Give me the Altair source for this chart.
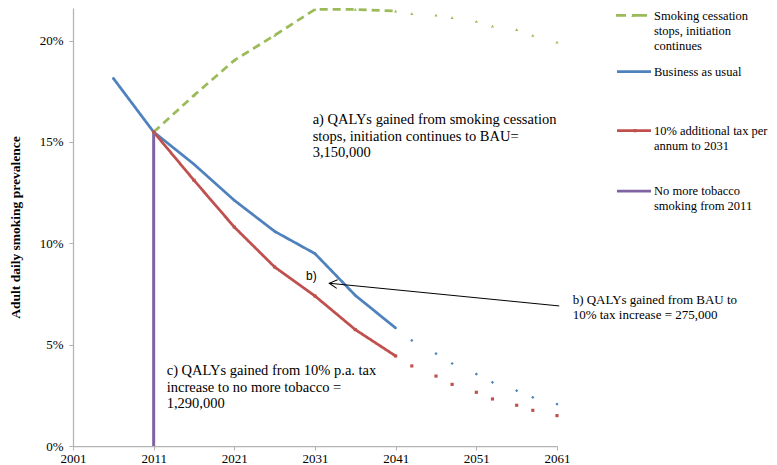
import altair as alt
import pandas as pd

FONT = "Liberation Serif"

# ---- data ----
series_names = [
    "Smoking cessation stops, initiation continues",
    "Business as usual",
    "10% additional tax per annum to 2031",
    "No more tobacco smoking from 2011",
]
colors = ["#9BBB59", "#4F81BD", "#C0504D", "#8064A2"]

bau_years = [2006, 2011, 2016, 2021, 2026, 2031, 2036, 2041]
bau = [18.14, 15.49, 13.9, 12.12, 10.59, 9.49, 7.43, 5.82]
tax_years = [2011, 2016, 2021, 2026, 2031, 2036, 2041]
tax = [15.49, 13.11, 10.8, 8.83, 7.40, 5.74, 4.44]
cess_years = [2011, 2016, 2021, 2026, 2031, 2036, 2041]
cess = [15.49, 17.3, 19.03, 20.26, 21.54, 21.54, 21.46]

proj_years = [2043, 2046, 2048, 2051, 2053, 2056, 2058, 2061]
bau_proj = [5.21, 4.56, 4.07, 3.55, 3.14, 2.73, 2.40, 2.07]
tax_proj = [3.95, 3.45, 3.04, 2.65, 2.32, 2.01, 1.76, 1.50]
cess_proj = [21.33, 21.26, 21.13, 20.95, 20.72, 20.54, 20.26, 19.93]

no_tob_year = [2011]
no_tob_top = [15.49]

x_ticks = [2001, 2011, 2021, 2031, 2041, 2051, 2061]
y_ticks = [0, 5, 10, 15, 20]

legend_lines = [
    ["Smoking cessation", "stops, initiation", "continues"],
    ["Business as usual"],
    ["10% additional tax per", "annum to 2031"],
    ["No more tobacco", "smoking from 2011"],
]

ann_a = "a) QALYs gained from smoking cessation\nstops, initiation continues to BAU=\n3,150,000"
ann_b = "b) QALYs gained from  BAU to\n10% tax increase =  275,000"
ann_c = "c) QALYs gained from 10% p.a. tax\nincrease to no more tobacco =\n1,290,000"
ann_pos_a = (2030.71, 15.87)
ann_pos_b = (2062.94, 7.03)
ann_pos_c = (2012.62, 3.50)
b_label_pos = (2029.88, 8.19)
arrow_from = (2061.28, 6.91)
arrow_to = (2032.77, 8.03)

# ---- tables ----
line_df = pd.concat([
    pd.DataFrame({"series": series_names[0], "year": cess_years, "value": cess}),
    pd.DataFrame({"series": series_names[1], "year": bau_years, "value": bau}),
    pd.DataFrame({"series": series_names[2], "year": tax_years, "value": tax}),
])
proj_df = pd.concat([
    pd.DataFrame({"series": series_names[0], "year": proj_years, "value": cess_proj}),
    pd.DataFrame({"series": series_names[1], "year": proj_years, "value": bau_proj}),
    pd.DataFrame({"series": series_names[2], "year": proj_years, "value": tax_proj}),
])
marker_df = pd.concat([line_df, proj_df])

x_scale = alt.Scale(domain=[2001, 2061], nice=False, zero=False)
y_scale = alt.Scale(domain=[0, 21.61], nice=False, zero=True)
color_scale = alt.Scale(domain=series_names, range=colors)

x_axis = alt.Axis(values=x_ticks, format="d", title=None, grid=False,
                  domainColor="#B3B3B3", domainWidth=1.25, tickColor="#B3B3B3",
                  tickSize=4, labelPadding=2, labelFont=FONT, labelFontSize=13,
                  labelColor="black", labelFlush=False)
y_axis = alt.Axis(values=y_ticks, labelExpr="datum.value + '%'",
                  title="Adult daily smoking prevalence", grid=False,
                  domainColor="#B3B3B3", domainWidth=1.25, tickColor="#B3B3B3",
                  tickSize=4, labelPadding=6, labelFont=FONT, labelFontSize=13,
                  labelColor="black", titleFont=FONT, titleFontSize=13.5,
                  titleFontWeight="bold", titleColor="black", titleAngle=270,
                  titleX=-58, titleY=219, titleBaseline="middle", titleAlign="center")

X = alt.X("year:Q", scale=x_scale, axis=x_axis)
Y = alt.Y("value:Q", scale=y_scale, axis=y_axis)

lines = alt.Chart(line_df).mark_line(strokeWidth=2.75).encode(
    x=X, y=Y,
    color=alt.Color("series:N", scale=color_scale, legend=None),
    strokeDash=alt.StrokeDash("series:N", scale=alt.Scale(
        domain=series_names[:3], range=[[8, 5], [1, 0], [1, 0]]), legend=None),
    detail="series:N",
)

markers = alt.Chart(marker_df).mark_point(filled=True, size=10, opacity=1).encode(
    x=X, y=Y,
    color=alt.Color("series:N", scale=color_scale, legend=None),
    shape=alt.Shape("series:N", scale=alt.Scale(
        domain=series_names[:3], range=["triangle-up", "diamond", "square"]), legend=None),
)

purple = alt.Chart(pd.DataFrame({"year": no_tob_year, "value": [0], "hi": no_tob_top})).mark_rule(
    strokeWidth=3, color=colors[3]).encode(x=X, y=Y, y2="hi:Q")

ann_df = pd.DataFrame({
    "year": [ann_pos_a[0], ann_pos_c[0]],
    "value": [ann_pos_a[1], ann_pos_c[1]],
    "text": [ann_a, ann_c],
})
ann_big = alt.Chart(ann_df).mark_text(align="left", baseline="alphabetic", lineBreak="\n",
                                      font=FONT, fontSize=14.5, lineHeight=16.5,
                                      color="black").encode(x=X, y=Y, text="text:N")
ann_b_txt = alt.Chart(pd.DataFrame({"year": [ann_pos_b[0]], "value": [ann_pos_b[1]], "text": [ann_b]})).mark_text(
    align="left", baseline="alphabetic", lineBreak="\n", font=FONT, fontSize=13,
    lineHeight=15, color="black").encode(x=X, y=Y, text="text:N")
b_lab = alt.Chart(pd.DataFrame({"year": [b_label_pos[0]], "value": [b_label_pos[1]], "text": ["b)"]})).mark_text(
    align="left", baseline="alphabetic", font="Liberation Sans", fontSize=12,
    color="black").encode(x=X, y=Y, text="text:N")

arrow_df = pd.DataFrame({"year": [arrow_from[0], arrow_to[0]], "value": [arrow_from[1], arrow_to[1]]})
arrow_line = alt.Chart(arrow_df).mark_line(color="black", strokeWidth=1).encode(x=X, y=Y)
arrow_head = alt.Chart(pd.DataFrame({"year": [arrow_to[0]], "value": [arrow_to[1]]})).mark_point(
    shape="M 1 -0.55 L 0 0 L 1 0.55", filled=False, size=250, angle=5.6,
    color="black", strokeWidth=1, opacity=1).encode(x=X, y=Y)

# ---- manual legend ----
leg_layers = []
leg_centers = [7.3, 63.7, 122.7, 183.0]
for i, name in enumerate(series_names):
    cy = leg_centers[i]
    d = pd.DataFrame({"text": ["\n".join(legend_lines[i])]})
    if i == 0:
        sym = alt.Chart(d).mark_rule(color=colors[i], strokeWidth=2.75, strokeDash=[10, 6, 15, 10]).encode(
            x=alt.value(543), x2=alt.value(574), y=alt.value(cy))
        tri = alt.Chart(d).mark_point(shape="triangle-up", filled=True, size=12, color=colors[i], opacity=1).encode(
            x=alt.value(560), y=alt.value(cy))
        leg_layers += [sym, tri]
    else:
        sym = alt.Chart(d).mark_rule(color=colors[i], strokeWidth=2.75).encode(
            x=alt.value(544), x2=alt.value(578), y=alt.value(cy))
        leg_layers.append(sym)
        if i == 2:
            sq = alt.Chart(d).mark_point(shape="square", filled=True, size=10, color=colors[i], opacity=1).encode(
                x=alt.value(562), y=alt.value(cy))
            leg_layers.append(sq)
    txt = alt.Chart(d).mark_text(align="left", baseline="alphabetic", lineBreak="\n",
                                 font=FONT, fontSize=12.5, lineHeight=15.3, color="black").encode(
        x=alt.value(581), y=alt.value(cy + 4.2), text="text:N")
    leg_layers.append(txt)

chart = alt.layer(lines, purple, markers, arrow_line, arrow_head, ann_big, ann_b_txt, b_lab,
                  *leg_layers).properties(
    width=484, height=438,
    autosize=alt.AutoSizeParams(type="none"),
    padding={"left": 65, "top": 0, "right": 212, "bottom": 19},
    background="white",
).configure_view(stroke=None)

chart.save("out.html", embed_options={"renderer": "svg", "actions": False})
